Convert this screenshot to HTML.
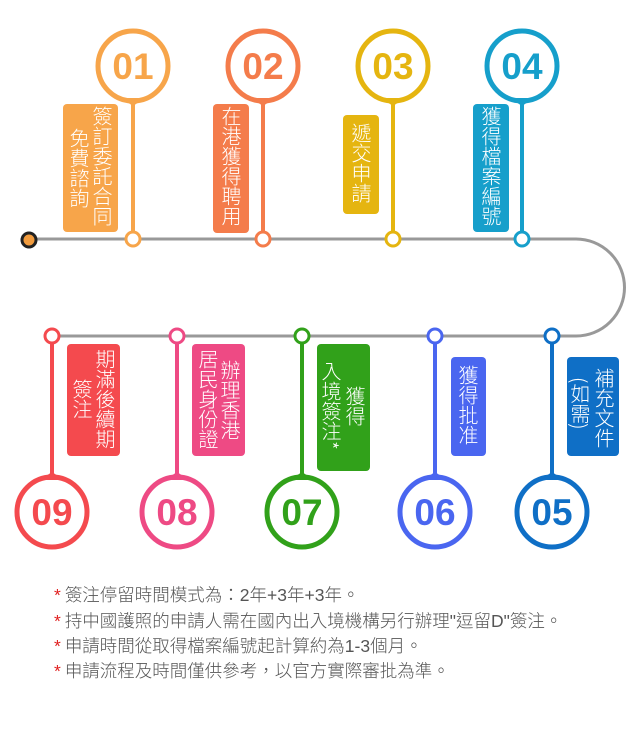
<!DOCTYPE html>
<html><head><meta charset="utf-8"><style>
body{margin:0;background:#fff;width:640px;height:740px;position:relative;overflow:hidden;font-family:"Liberation Sans","Noto Sans CJK TC",sans-serif}
.v{position:absolute;writing-mode:vertical-rl;font-size:20px;line-height:22px;color:#fff;white-space:nowrap;font-family:"Noto Sans CJK TC","WenQuanYi Zen Hei",sans-serif;font-weight:300}
.b{position:absolute;border-radius:4px}
.n{position:absolute;left:20px;font-size:17.5px;color:#555;font-family:"Liberation Sans","Noto Sans CJK TC",sans-serif;white-space:nowrap;font-weight:300}
.n span{color:#e02020;margin-right:4px}
</style></head><body>
<svg width="640" height="740" style="position:absolute;left:0;top:0">
<path d="M29 239 H576 A48.5 48.5 0 0 1 576 336 H52" fill="none" stroke="#999" stroke-width="3"/>
<circle cx="29" cy="240" r="7" fill="#F29C3E" stroke="#222" stroke-width="3"/>
<g font-family="Liberation Sans,sans-serif" font-weight="bold" font-size="37" text-anchor="middle">
<g stroke="#F7A54A" fill="none"><circle cx="133" cy="66" r="35" stroke-width="5"/><line x1="133" y1="100" x2="133" y2="232" stroke-width="4"/><circle cx="133" cy="239" r="7" fill="#fff" stroke-width="3"/></g>
<path d="M121 98 L133 106 L145 98Z" fill="#F7A54A"/>
<text x="133" y="79" fill="#F7A54A">01</text>
<g stroke="#F47C4B" fill="none"><circle cx="263" cy="66" r="35" stroke-width="5"/><line x1="263" y1="100" x2="263" y2="232" stroke-width="4"/><circle cx="263" cy="239" r="7" fill="#fff" stroke-width="3"/></g>
<path d="M251 98 L263 106 L275 98Z" fill="#F47C4B"/>
<text x="263" y="79" fill="#F47C4B">02</text>
<g stroke="#E5B510" fill="none"><circle cx="393" cy="66" r="35" stroke-width="5"/><line x1="393" y1="100" x2="393" y2="232" stroke-width="4"/><circle cx="393" cy="239" r="7" fill="#fff" stroke-width="3"/></g>
<path d="M381 98 L393 106 L405 98Z" fill="#E5B510"/>
<text x="393" y="79" fill="#E5B510">03</text>
<g stroke="#169FCB" fill="none"><circle cx="522" cy="66" r="35" stroke-width="5"/><line x1="522" y1="100" x2="522" y2="232" stroke-width="4"/><circle cx="522" cy="239" r="7" fill="#fff" stroke-width="3"/></g>
<path d="M510 98 L522 106 L534 98Z" fill="#169FCB"/>
<text x="522" y="79" fill="#169FCB">04</text>
<g stroke="#F44A4E" fill="none"><circle cx="52" cy="512" r="35" stroke-width="5"/><line x1="52" y1="343" x2="52" y2="478" stroke-width="4"/><circle cx="52" cy="336" r="7" fill="#fff" stroke-width="3"/></g>
<path d="M40 480 L52 472 L64 480Z" fill="#F44A4E"/>
<text x="52" y="525" fill="#F44A4E">09</text>
<g stroke="#EE4A84" fill="none"><circle cx="177" cy="512" r="35" stroke-width="5"/><line x1="177" y1="343" x2="177" y2="478" stroke-width="4"/><circle cx="177" cy="336" r="7" fill="#fff" stroke-width="3"/></g>
<path d="M165 480 L177 472 L189 480Z" fill="#EE4A84"/>
<text x="177" y="525" fill="#EE4A84">08</text>
<g stroke="#31A11A" fill="none"><circle cx="302" cy="512" r="35" stroke-width="5"/><line x1="302" y1="343" x2="302" y2="478" stroke-width="4"/><circle cx="302" cy="336" r="7" fill="#fff" stroke-width="3"/></g>
<path d="M290 480 L302 472 L314 480Z" fill="#31A11A"/>
<text x="302" y="525" fill="#31A11A">07</text>
<g stroke="#4A66F0" fill="none"><circle cx="435" cy="512" r="35" stroke-width="5"/><line x1="435" y1="343" x2="435" y2="478" stroke-width="4"/><circle cx="435" cy="336" r="7" fill="#fff" stroke-width="3"/></g>
<path d="M423 480 L435 472 L447 480Z" fill="#4A66F0"/>
<text x="435" y="525" fill="#4A66F0">06</text>
<g stroke="#0F6FC6" fill="none"><circle cx="552" cy="512" r="35" stroke-width="5"/><line x1="552" y1="343" x2="552" y2="478" stroke-width="4"/><circle cx="552" cy="336" r="7" fill="#fff" stroke-width="3"/></g>
<path d="M540 480 L552 472 L564 480Z" fill="#0F6FC6"/>
<text x="552" y="525" fill="#0F6FC6">05</text>
</g>
</svg>

<div class="b" style="left:63px;top:104px;width:55px;height:128px;background:#F7A54A"></div>
<div class="v" style="left:91px;top:106px">簽訂委託合同</div>
<div class="v" style="left:68px;top:128px">免費諮詢</div>

<div class="b" style="left:213px;top:104px;width:36px;height:129px;background:#F47C4B"></div>
<div class="v" style="left:220px;top:106px">在港獲得聘用</div>

<div class="b" style="left:343px;top:115px;width:36px;height:99px;background:#E5B510"></div>
<div class="v" style="left:350px;top:123px">遞交申請</div>

<div class="b" style="left:473px;top:104px;width:36px;height:128px;background:#169FCB"></div>
<div class="v" style="left:480px;top:106px">獲得檔案編號</div>

<div class="b" style="left:67px;top:344px;width:53px;height:112px;background:#F44A4E"></div>
<div class="v" style="left:94px;top:349px">期滿後續期</div>
<div class="v" style="left:71px;top:379px">簽注</div>

<div class="b" style="left:192px;top:344px;width:53px;height:112px;background:#EE4A84"></div>
<div class="v" style="left:219px;top:360px">辦理香港</div>
<div class="v" style="left:197px;top:349px">居民身份證</div>

<div class="b" style="left:317px;top:344px;width:53px;height:127px;background:#31A11A"></div>
<div class="v" style="left:344px;top:386px">獲得</div>
<div class="v" style="left:320px;top:361px">入境簽注*</div>

<div class="b" style="left:451px;top:357px;width:35px;height:99px;background:#4A66F0"></div>
<div class="v" style="left:457px;top:365px">獲得批准</div>

<div class="b" style="left:567px;top:357px;width:52px;height:99px;background:#0F6FC6"></div>
<div class="v" style="left:593px;top:368px">補充文件</div>
<div class="v" style="left:569px;top:377px">(如需)</div>

<div class="n" style="top:582px;left:54px"><span>*</span>簽注停留時間模式為：2年+3年+3年。</div>
<div class="n" style="top:608px;left:54px"><span>*</span>持中國護照的申請人需在國內出入境機構另行辦理"逗留D"簽注。</div>
<div class="n" style="top:633px;left:54px"><span>*</span>申請時間從取得檔案編號起計算約為1-3個月。</div>
<div class="n" style="top:658px;left:54px"><span>*</span>申請流程及時間僅供參考，以官方實際審批為準。</div>
</body></html>
